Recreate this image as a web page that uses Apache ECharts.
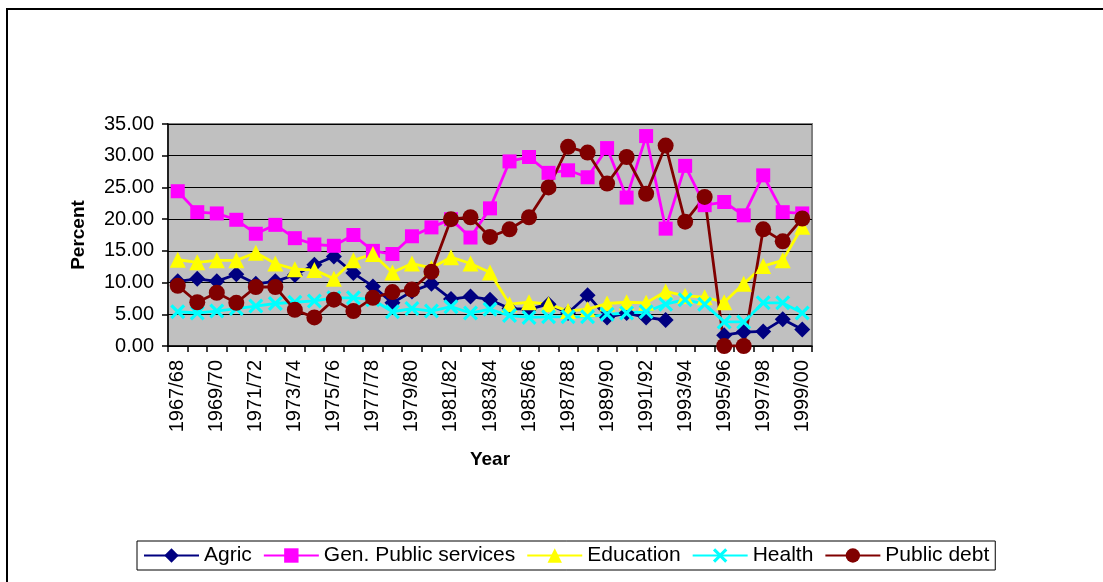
<!DOCTYPE html>
<html>
<head>
<meta charset="utf-8">
<title>Expenditure shares by function, 1967/68 - 1999/00</title>
<script src="https://cdn.jsdelivr.net/npm/echarts@6/dist/echarts.min.js"></script>
<style>
  html, body { margin: 0; padding: 0; background: #ffffff; }
  #chart { width: 1103px; height: 582px; }
</style>
</head>
<body>
<div id="chart"></div>
<script>
// Fiscal years
const years = [
  '1967/68','1968/69','1969/70','1970/71','1971/72','1972/73','1973/74','1974/75',
  '1975/76','1976/77','1977/78','1978/79','1979/80','1980/81','1981/82','1982/83',
  '1983/84','1984/85','1985/86','1986/87','1987/88','1988/89','1989/90','1990/91',
  '1991/92','1992/93','1993/94','1994/95','1995/96','1996/97','1997/98','1998/99',
  '1999/00'
];

// Share of expenditure, percent
const agric = [
  10.2, 10.6, 10.2, 11.3, 9.8, 10.2, 11.2, 12.8, 14.1, 11.5, 9.4, 6.8,
  8.6, 9.8, 7.4, 7.8, 7.3, 5.9, 5.8, 6.6, 5.2, 8.0, 4.5, 5.2,
  4.5, 4.1, null, null, 1.7, 2.2, 2.3, 4.2, 2.6
];
const genPublic = [
  24.4, 21.1, 20.9, 19.9, 17.7, 19.1, 17.0, 16.0, 15.8, 17.5, 15.0, 14.5,
  17.3, 18.7, 20.0, 17.1, 21.7, 29.1, 29.8, 27.3, 27.7, 26.6, 31.2, 23.4,
  33.1, 18.5, 28.4, 22.2, 22.7, 20.6, 26.9, 21.1, 20.9
];
const education = [
  13.6, 13.2, 13.5, 13.5, 14.7, 13.0, 12.1, 12.0, 10.6, 13.5, 14.5, 11.6,
  13.0, 12.3, 14.0, 13.0, 11.6, 6.6, 6.9, 6.6, 5.5, 5.8, 6.7, 6.9,
  6.8, 8.6, 7.9, 7.7, 6.9, 9.8, 12.6, 13.5, 18.8
];
const health = [
  5.4, 5.2, 5.5, 5.9, 6.3, 6.7, 6.9, 7.1, 7.6, 7.6, 7.3, 5.4,
  5.9, 5.5, 6.2, 5.2, 5.8, 4.8, 4.5, 4.6, 4.6, 4.6, 5.0, 5.2,
  5.4, 6.6, 7.3, 6.6, 3.8, 3.8, 6.8, 6.8, 5.2
];
const publicDebt = [
  9.5, 6.9, 8.4, 6.8, 9.3, 9.3, 5.7, 4.5, 7.3, 5.5, 7.6, 8.5,
  8.9, 11.7, 20.0, 20.3, 17.2, 18.4, 20.3, 25.0, 31.4, 30.5, 25.6, 29.8,
  24.0, 31.6, 19.6, 23.5, 0.0, 0.0, 18.4, 16.5, 20.1
];

const seriesNames = ['Agric', 'Gen. Public services', 'Education', 'Health', 'Public debt'];
const yTicks = { min: 0, max: 35, step: 5 };

const FONT = '"Liberation Sans", Arial, sans-serif';
// Filled X marker with thick arms
const crossSymbol = 'path://M0,1.5L1.5,0L5,3.5L8.5,0L10,1.5L6.5,5L10,8.5L8.5,10L5,6.5L1.5,10L0,8.5L3.5,5Z';

function lineSeries(name, data, color, symbol, size) {
  return {
    name: name,
    type: 'line',
    data: data,
    symbol: symbol,
    symbolSize: size,
    showAllSymbol: true,
    connectNulls: false,
    animation: false,
    lineStyle: { color: color, width: 2.8 },
    itemStyle: { color: color, borderWidth: 0 },
    emphasis: { disabled: true }
  };
}

const chart = echarts.init(document.getElementById('chart'), null, { renderer: 'canvas' });

chart.setOption({
  backgroundColor: '#ffffff',
  animation: false,
  textStyle: { fontFamily: FONT, color: '#000' },
  graphic: [{
    type: 'rect',
    shape: { x: 7, y: 9, width: 1200, height: 700 },
    style: { fill: 'none', stroke: '#000', lineWidth: 2 },
    silent: true
  }],
  grid: {
    left: 168, top: 124, width: 644, height: 222,
    show: true,
    backgroundColor: '#C0C0C0',
    borderColor: '#808080',
    borderWidth: 2
  },
  legend: {
    data: seriesNames,
    left: 137, top: 541,
    orient: 'horizontal',
    itemWidth: 55, itemHeight: 18, itemGap: 11,
    padding: [4, 6],
    borderColor: '#000', borderWidth: 1,
    backgroundColor: '#fff',
    textStyle: { fontFamily: FONT, fontSize: 21, color: '#000' }
  },
  xAxis: {
    type: 'category',
    data: years,
    boundaryGap: true,
    name: 'Year',
    nameLocation: 'middle',
    nameGap: 104,
    nameTextStyle: { fontFamily: FONT, fontSize: 19, fontWeight: 'bold', color: '#000' },
    axisLine: { show: true, lineStyle: { color: '#000', width: 1.5 } },
    axisTick: { show: true, interval: 0, length: 6, lineStyle: { color: '#000', width: 1.5 } },
    axisLabel: { interval: 1, rotate: 90, margin: 14, fontFamily: FONT, fontSize: 20, color: '#000' },
    splitLine: { show: false }
  },
  yAxis: {
    type: 'value',
    min: yTicks.min, max: yTicks.max, interval: yTicks.step,
    name: 'Percent',
    nameLocation: 'middle',
    nameRotate: 90,
    nameGap: 80,
    nameTextStyle: { fontFamily: FONT, fontSize: 19, fontWeight: 'bold', color: '#000' },
    axisLine: { show: true, lineStyle: { color: '#000', width: 1.5 } },
    axisTick: { show: true, length: 6, lineStyle: { color: '#000', width: 1.5 } },
    axisLabel: {
      margin: 14, fontFamily: FONT, fontSize: 20, color: '#000',
      formatter: function (v) { return v.toFixed(2); }
    },
    splitLine: { show: true, lineStyle: { color: '#000', width: 1 } }
  },
  series: [
    lineSeries(seriesNames[0], agric, '#000080', 'diamond', 16),
    lineSeries(seriesNames[1], genPublic, '#FF00FF', 'rect', 14),
    lineSeries(seriesNames[2], education, '#FFFF00', 'triangle', 16),
    lineSeries(seriesNames[3], health, '#00FFFF', crossSymbol, 15),
    lineSeries(seriesNames[4], publicDebt, '#800000', 'circle', 16)
  ]
});
</script>
</body>
</html>
